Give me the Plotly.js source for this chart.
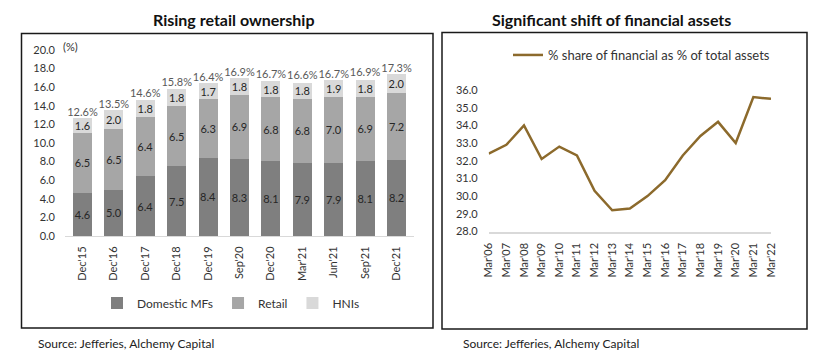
<!DOCTYPE html>
<html><head><meta charset="utf-8">
<script src="https://cdn.plot.ly/plotly-3.0.1.min.js"></script>
<style>html,body{margin:0;padding:0;background:#fff}#chart{width:826px;height:358px}</style>
</head><body><div id="chart"></div>
<script>
// Left chart data
const periods = ["Dec'15","Dec'16","Dec'17","Dec'18","Dec'19","Sep'20","Dec'20","Mar'21","Jun'21","Sep'21","Dec'21"];
const domesticMFs = [4.6,5.0,6.4,7.5,8.4,8.3,8.1,7.9,7.9,8.1,8.2];
const retail = [6.5,6.5,6.4,6.5,6.3,6.9,6.8,6.8,7.0,6.9,7.2];
const hnis = [1.6,2.0,1.8,1.8,1.7,1.8,1.8,1.8,1.9,1.8,2.0];
const totals = [12.6,13.5,14.6,15.8,16.4,16.9,16.7,16.6,16.7,16.9,17.3];
// Right chart data
const years = ["Mar'06","Mar'07","Mar'08","Mar'09","Mar'10","Mar'11","Mar'12","Mar'13","Mar'14","Mar'15","Mar'16","Mar'17","Mar'18","Mar'19","Mar'20","Mar'21","Mar'22"];
const financialShare = [32.4,32.9,34.0,32.1,32.8,32.3,30.3,29.2,29.3,30.0,30.9,32.3,33.4,34.2,33.0,35.6,35.5];

const W = 826, H = 358;
const px = v => v / W, py = v => 1 - v / H;
const F = "Lato, 'Noto Sans', sans-serif";

const barText = {family: F, size: 11, color: '#262626'};
function barTrace(name, vals, color) {
  return {type: 'bar', name: name, x: periods, y: vals, xaxis: 'x', yaxis: 'y',
    marker: {color: color}, text: vals.map(v => v.toFixed(1)), textposition: 'inside',
    insidetextanchor: 'middle', textangle: 0, constraintext: 'none', textfont: barText,
    legend: 'legend', hoverinfo: 'skip'};
}

const data = [
  barTrace('Domestic MFs', domesticMFs, '#7f7f7f'),
  barTrace('Retail', retail, '#a6a6a6'),
  barTrace('HNIs', hnis, '#d9d9d9'),
  {type: 'scatter', mode: 'text', x: periods, y: totals, text: totals.map(v => v.toFixed(1) + '%'),
    textposition: 'top center', textfont: {family: F, size: 11, color: '#595959'},
    xaxis: 'x', yaxis: 'y', showlegend: false, hoverinfo: 'skip', cliponaxis: false},
  {type: 'scatter', mode: 'lines', name: '% share of financial as % of total assets',
    x: years, y: financialShare, xaxis: 'x2', yaxis: 'y2',
    line: {color: '#8c6a2c', width: 2.5}, legend: 'legend2'}
];

const tickF = {family: F, size: 11, color: '#333'};
const layout = {
  width: W, height: H, margin: {l: 0, r: 0, t: 0, b: 0},
  paper_bgcolor: '#fff', plot_bgcolor: '#fff',
  barmode: 'stack', bargap: 0.4,
  font: {family: F, color: '#333'},
  xaxis: {domain: [px(65), px(414)], anchor: 'y', type: 'category', tickangle: -90,
    tickfont: tickF, showline: true, linecolor: '#d9d9d9', linewidth: 1, showgrid: false,
    ticks: '', ticklabelstandoff: 5, fixedrange: true},
  yaxis: {domain: [py(236), py(50)], anchor: 'x', range: [0, 20], dtick: 2, tickformat: '.1f',
    tickfont: tickF, showgrid: false, zeroline: false, showline: false, ticks: '',
    ticklabelstandoff: 9, fixedrange: true},
  xaxis2: {domain: [px(488.7), px(771)], anchor: 'y2', type: 'category', tickangle: -90,
    tickfont: tickF, showline: true, linecolor: '#d9d9d9', linewidth: 2, showgrid: false,
    ticks: '', ticklabelstandoff: 5, fixedrange: true},
  yaxis2: {domain: [py(231.5), py(90)], anchor: 'x2', range: [28, 36], dtick: 1, tickformat: '.1f',
    tickfont: tickF, showgrid: false, zeroline: false, showline: false, ticks: '',
    ticklabelstandoff: 10, fixedrange: true},
  legend: {orientation: 'h', x: px(231), y: py(303), xanchor: 'center', yanchor: 'middle',
    font: {family: F, size: 12, color: '#333'}, bgcolor: 'rgba(0,0,0,0)', itemwidth: 30,
    traceorder: 'normal'},
  legend2: {orientation: 'h', x: px(508), y: py(55), xanchor: 'left', yanchor: 'middle',
    font: {family: F, size: 13, color: '#333'}, bgcolor: 'rgba(0,0,0,0)', itemwidth: 30},
  shapes: [
    {type: 'rect', xref: 'paper', yref: 'paper', x0: px(21.5), x1: px(433), y0: py(328), y1: py(33.5),
      line: {color: '#1a1a1a', width: 1.5}},
    {type: 'rect', xref: 'paper', yref: 'paper', x0: px(442), x1: px(807), y0: py(329), y1: py(32.5),
      line: {color: '#1a1a1a', width: 1.5}}
  ],
  annotations: [
    {text: '<b>Rising retail ownership</b>', xref: 'paper', yref: 'paper', x: px(234), y: py(19),
      xanchor: 'center', yanchor: 'middle', showarrow: false, font: {family: F, size: 16, color: '#111'}},
    {text: '<b>Significant shift of financial assets</b>', xref: 'paper', yref: 'paper', x: px(611), y: py(19),
      xanchor: 'center', yanchor: 'middle', showarrow: false, font: {family: F, size: 16, color: '#111'}},
    {text: '(%)', xref: 'paper', yref: 'paper', x: px(61), y: py(46), xanchor: 'left', yanchor: 'middle',
      showarrow: false, font: {family: F, size: 11, color: '#333'}},
    {text: 'Source: Jefferies, Alchemy Capital', xref: 'paper', yref: 'paper', x: px(36), y: py(343),
      xanchor: 'left', yanchor: 'middle', showarrow: false, font: {family: F, size: 12, color: '#222'}},
    {text: 'Source: Jefferies, Alchemy Capital', xref: 'paper', yref: 'paper', x: px(461), y: py(343),
      xanchor: 'left', yanchor: 'middle', showarrow: false, font: {family: F, size: 12, color: '#222'}}
  ]
};

Plotly.newPlot('chart', data, layout, {staticPlot: true, displayModeBar: false});
</script></body></html>
